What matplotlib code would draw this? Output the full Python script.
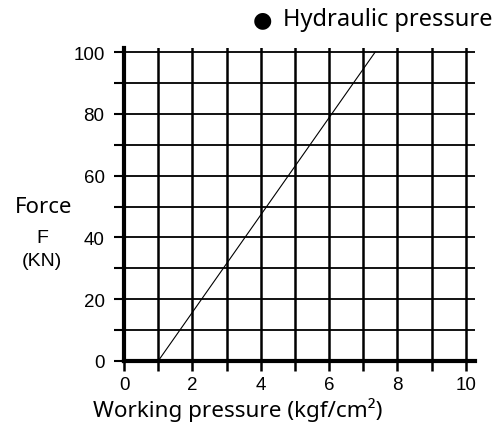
import matplotlib
matplotlib.use("Agg")
import matplotlib.pyplot as plt
from matplotlib.ticker import MultipleLocator

# data
pressure = [1.0, 7.35]      # kgf/cm2
force = [0.0, 100.0]        # KN
x_ticks = [0, 2, 4, 6, 8, 10]
y_ticks = [0, 20, 40, 60, 80, 100]

W, H = 503, 427
fig = plt.figure(figsize=(W / 100, H / 100), dpi=100)
ax = fig.add_axes([124 / W, 65 / H, (475 - 124) / W, (370 - 57) / H])

ax.plot(pressure, force, color="black", linewidth=0.8, zorder=3)

ax.set_xlim(0, 10.27)
ax.set_ylim(0, 101.3)
ax.set_xticks(x_ticks)
ax.set_yticks(y_ticks)
ax.xaxis.set_minor_locator(MultipleLocator(1))
ax.yaxis.set_minor_locator(MultipleLocator(10))
ax.set_xticklabels([str(v) for v in x_ticks], family="Liberation Sans", fontsize=13.5)
ax.set_yticklabels([str(v) for v in y_ticks], family="Liberation Sans", fontsize=13.5)

ax.grid(True, which="both", axis="x", color="black", linewidth=1.8)
ax.grid(True, which="both", axis="y", color="black", linewidth=1.3)
ax.tick_params(which="both", direction="out", length=7, width=1.5, color="black")
ax.tick_params(axis="x", which="both", width=1.8, pad=4)
ax.tick_params(axis="y", which="both", pad=7)

for s in ["top", "right"]:
    ax.spines[s].set_visible(False)
for s in ["left", "bottom"]:
    ax.spines[s].set_linewidth(3)
    ax.spines[s].set_zorder(4)

# labels
fig.text(44 / W, 1 - 213 / H, "Force", family="Noto Sans", fontsize=16, ha="center", va="baseline")
fig.text(42 / W, 1 - 243 / H, "F", family="Liberation Sans", fontsize=14, ha="center", va="baseline")
fig.text(42 / W, 1 - 266 / H, "(KN)", family="Liberation Sans", fontsize=14, ha="center", va="baseline")
fig.text(93 / W, 1 - 417 / H, "Working pressure (kgf/cm²)", family="Noto Sans", fontsize=16.2,
         ha="left", va="baseline")

# legend-like note at top right
fig.text(262 / W, 1 - 20 / H, "●", family="DejaVu Sans", fontsize=16, ha="center", va="center")
fig.text(283 / W, 1 - 26 / H, "Hydraulic pressure", family="Noto Sans", fontsize=17,
         ha="left", va="baseline")

fig.savefig("out.png", dpi=100)
